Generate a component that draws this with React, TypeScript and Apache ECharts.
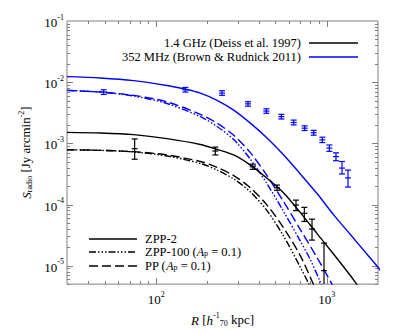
import React, { useEffect, useRef } from 'react';
import * as echarts from 'echarts';

const FONT = '"Liberation Serif", "DejaVu Serif", "Times New Roman", serif';
const BLUE = '#0000ff';
const BLACK = '#000000';
const FRAME = '#808080';

// ---- model curves (R in h70^-1 kpc, S in Jy arcmin^-2) ----
const zpp2BlueR = [30, 47.1, 73.8, 115.8, 145, 181.6, 227.5, 284.9, 356.8, 446.8, 559.7, 700.9, 877.9, 1099.4, 1376.9, 1724.5, 2000, 2259];
const zpp2BlueS = [0.0123, 0.01171, 0.01061, 0.00882, 0.00779, 0.00664, 0.00506, 0.0035, 0.00214, 0.001226, 6.46e-4, 3.16e-4, 1.51e-4, 6.76e-5, 3.23e-5, 1.54e-5, 9.41e-6, 6.11e-6];

const zpp100BlueR = [30, 47.1, 73.8, 115.8, 181.6, 227.5, 284.9, 356.8, 446.8, 559.7, 700.9, 802.4, 918, 1004.7];
const zpp100BlueS = [7.33e-3, 6.89e-3, 5.94e-3, 4.48e-3, 2.73e-3, 1.888e-3, 1.153e-3, 5.5e-4, 2.18e-4, 7.65e-5, 2.52e-5, 1.249e-5, 5.4e-6, 2.92e-6];

const ppBlueR = [30, 47.1, 73.8, 115.8, 181.6, 227.5, 284.9, 356.8, 446.8, 559.7, 700.9, 877.9, 1075, 1176];
const ppBlueS = [7.33e-3, 6.89e-3, 6.09e-3, 4.76e-3, 2.98e-3, 2.14e-3, 1.353e-3, 7.04e-4, 2.97e-4, 1.107e-4, 3.88e-5, 1.36e-5, 4.95e-6, 3.1e-6];

const zpp2BlackR = [30, 47.1, 73.8, 115.8, 181.6, 227.5, 284.9, 356.8, 446.8, 559.7, 700.9, 877.9, 1099.4, 1376.9, 1507, 1649];
const zpp2BlackS = [1.512e-3, 1.475e-3, 1.387e-3, 1.196e-3, 9.58e-4, 7.96e-4, 6.46e-4, 4.41e-4, 2.69e-4, 1.545e-4, 7.37e-5, 3.35e-5, 1.54e-5, 6.91e-6, 4.89e-6, 3.51e-6];

const zpp100BlackR = [30, 47.1, 73.8, 115.8, 181.6, 227.5, 284.9, 356.8, 446.8, 559.7, 700.9, 784.4, 858];
const zpp100BlackS = [7.86e-4, 7.68e-4, 7.22e-4, 6.22e-4, 4.69e-4, 3.66e-4, 2.62e-4, 1.603e-4, 7.94e-5, 3.03e-5, 9.41e-6, 5.08e-6, 2.92e-6];

const ppBlackR = [30, 47.1, 73.8, 115.8, 181.6, 227.5, 284.9, 356.8, 446.8, 559.7, 700.9, 838.9, 918];
const ppBlackS = [7.86e-4, 7.68e-4, 7.31e-4, 6.46e-4, 5.05e-4, 4.04e-4, 2.97e-4, 1.88e-4, 9.79e-5, 4.13e-5, 1.449e-5, 4.89e-6, 2.92e-6];

// ---- observations ----
const obs352R = [49.2, 148.3, 243.4, 345.7, 442.9, 542.4, 640.5, 743.0, 838.9, 943.2, 1037, 1134, 1230, 1334];
const obs352S = [6.89e-3, 7.51e-3, 6.64e-3, 4.42e-3, 3.37e-3, 2.73e-3, 2.19e-3, 1.77e-3, 1.49e-3, 1.14e-3, 8.37e-4, 6.07e-4, 3.94e-4, 2.72e-4];
const obs352Lo = [6.3e-3, 6.9e-3, 6.1e-3, 4.05e-3, 3.1e-3, 2.5e-3, 2.0e-3, 1.62e-3, 1.36e-3, 1.03e-3, 7.4e-4, 5.2e-4, 3.16e-4, 1.93e-4];
const obs352Hi = [7.5e-3, 8.2e-3, 7.25e-3, 4.8e-3, 3.67e-3, 2.98e-3, 2.4e-3, 1.93e-3, 1.63e-3, 1.26e-3, 9.4e-4, 7.0e-4, 5.05e-4, 3.66e-4];

const obs14R = [74.8, 222.4, 368.1, 511.5, 661.1, 739.7, 820.4, 964.7];
const obs14S = [8.17e-4, 7.49e-4, 4.14e-4, 1.88e-4, 9.8e-5, 7.19e-5, 3.98e-5, 8.3e-6];
const obs14Lo = [5.5e-4, 6.46e-4, 3.75e-4, 1.71e-4, 7.94e-5, 5.28e-5, 2.62e-5, 2e-6];
const obs14Hi = [1.18e-3, 8.68e-4, 4.57e-4, 2.08e-4, 1.18e-4, 8.98e-5, 5.77e-5, 2.34e-5];

// ---- axes ----
const X_MIN = 30;
const X_MAX = 2000;
const Y_MIN = 5e-6;
const Y_MAX = 0.1;
const xMajorTicks = [100, 1000];
const xMinorTicks = [40, 50, 60, 70, 80, 90, 200, 300, 400, 500, 600, 700, 800, 900];
const yMajorTicks = [1e-5, 1e-4, 1e-3, 1e-2];
const yMinorMantissas = [2, 3, 4, 5, 6, 7, 8, 9];
const yMinorExps = [-6, -5, -4, -3, -2];

const zip = (a: number[], b: number[]) => a.map((v, i) => [v, b[i]]);

const lineSeries = (name: string, r: number[], s: number[], color: string, type: any) => ({
  name,
  type: 'line',
  data: zip(r, s),
  showSymbol: false,
  symbol: 'none',
  smooth: 0.3,
  clip: true,
  lineStyle: { color, width: 1.4, type },
  z: 3,
});

const DASH_DOT3 = [7, 2, 1.5, 2, 1.5, 2, 1.5, 2];
const DASH = [9, 4];

const errSeries = (r: number[], s: number[], lo: number[], hi: number[], color: string) => ({
  type: 'custom',
  clip: true,
  z: 5,
  data: r.map((v, i) => [v, s[i], lo[i], hi[i]]),
  encode: { x: 0, y: 1 },
  renderItem: (params: any, api: any) => {
    const x = api.value(0);
    const p = api.coord([x, api.value(1)]);
    const pl = api.coord([x, api.value(2)]);
    const ph = api.coord([x, api.value(3)]);
    const w = 3;
    const style = { stroke: color, lineWidth: 1.2 };
    return {
      type: 'group',
      children: [
        { type: 'line', shape: { x1: p[0], y1: ph[1], x2: p[0], y2: pl[1] }, style },
        { type: 'line', shape: { x1: p[0] - w, y1: ph[1], x2: p[0] + w, y2: ph[1] }, style },
        { type: 'line', shape: { x1: p[0] - w, y1: pl[1], x2: p[0] + w, y2: pl[1] }, style },
        { type: 'line', shape: { x1: p[0] - w, y1: p[1], x2: p[0] + w, y2: p[1] }, style },
      ],
    };
  },
});

const tickStyle = { stroke: FRAME, lineWidth: 1 };

const xTickSeries = {
  type: 'custom',
  clip: false,
  silent: true,
  z: 2,
  data: [...xMajorTicks.map((v) => [v, 1e-3, 6]), ...xMinorTicks.map((v) => [v, 1e-3, 3])],
  encode: { x: 0, y: 1 },
  renderItem: (params: any, api: any) => {
    const cs = params.coordSys;
    const px = Math.round(api.coord([api.value(0), 1e-3])[0]) + 0.5;
    const len = api.value(2);
    const yb = cs.y + cs.height;
    const yt = cs.y;
    return {
      type: 'group',
      children: [
        { type: 'line', shape: { x1: px, y1: yb, x2: px, y2: yb - len }, style: tickStyle },
        { type: 'line', shape: { x1: px, y1: yt, x2: px, y2: yt + len }, style: tickStyle },
      ],
    };
  },
};

const yMinorTicks: number[] = [];
yMinorExps.forEach((e) => yMinorMantissas.forEach((m) => {
  const v = m * Math.pow(10, e);
  if (v > Y_MIN * 0.999 && v < Y_MAX) yMinorTicks.push(v);
}));

const yTickSeries = {
  type: 'custom',
  clip: false,
  silent: true,
  z: 2,
  data: [...yMajorTicks.map((v) => [100, v, 6]), ...yMinorTicks.map((v) => [100, v, 3])],
  encode: { x: 0, y: 1 },
  renderItem: (params: any, api: any) => {
    const cs = params.coordSys;
    const py = Math.round(api.coord([100, api.value(1)])[1]) + 0.5;
    const len = api.value(2);
    const xl = cs.x;
    const xr = cs.x + cs.width;
    return {
      type: 'group',
      children: [
        { type: 'line', shape: { x1: xl, y1: py, x2: xl + len, y2: py }, style: tickStyle },
        { type: 'line', shape: { x1: xr, y1: py, x2: xr - len, y2: py }, style: tickStyle },
      ],
    };
  },
};

const richBase = {
  b: { fontFamily: FONT, fontSize: 13, color: BLACK, lineHeight: 16, verticalAlign: 'bottom' },
  s: { fontFamily: FONT, fontSize: 8, color: BLACK, lineHeight: 8, verticalAlign: 'top' },
  sub: { fontFamily: FONT, fontSize: 8, color: BLACK, lineHeight: 7, verticalAlign: 'bottom' },
  i: { fontFamily: FONT, fontSize: 13, color: BLACK, lineHeight: 16, fontStyle: 'italic', verticalAlign: 'bottom' },
};

const richLegend = {
  b: { fontFamily: FONT, fontSize: 12, color: BLACK, lineHeight: 11, verticalAlign: 'middle' },
  i: { fontFamily: FONT, fontSize: 12, color: BLACK, lineHeight: 11, fontStyle: 'italic', verticalAlign: 'middle' },
  sub: { fontFamily: FONT, fontSize: 8, color: BLACK, lineHeight: 5, verticalAlign: 'bottom' },
};

const powLabel = (v: number) => {
  const e = Math.round(Math.log10(v));
  return `{b|10}{s|${e}}`;
};

const legendText = (text: string, x: number, y: number, align: string) => ({
  type: 'text',
  style: {
    text,
    x,
    y,
    fill: BLACK,
    font: `12.5px ${FONT}`,
    fontFamily: FONT,
    fontSize: 12.5,
    lineHeight: 11,
    align,
    textAlign: align,
    verticalAlign: 'middle',
    textVerticalAlign: 'middle',
    rich: richLegend,
  },
  z: 10,
});

const legendLine = (x1: number, x2: number, y: number, color: string, dash: any) => ({
  type: 'line',
  shape: { x1, y1: y, x2, y2: y },
  style: { stroke: color, lineWidth: 1.6, lineDash: dash },
  z: 10,
});

export default function App() {
  const ref = useRef<HTMLDivElement>(null);
  useEffect(() => {
    if (!ref.current) return;
    const chart = echarts.init(ref.current, null, { renderer: 'svg' });
    chart.setOption({
      animation: false,
      backgroundColor: '#ffffff',
      grid: { left: 67, right: 21, top: 21, bottom: 43, show: true, borderColor: FRAME, borderWidth: 1, backgroundColor: 'transparent' },
      xAxis: {
        type: 'log',
        logBase: 10,
        min: X_MIN,
        max: X_MAX,
        axisLine: { show: false },
        axisTick: { show: false },
        splitLine: { show: false },
        minorTick: { show: false },
        axisLabel: { showMinLabel: false, showMaxLabel: false, margin: 6, formatter: powLabel, rich: richBase },
        name: '{i|R} [{i|h}{s|-1}{sub|70} kpc]',
        nameLocation: 'middle',
        nameGap: 22,
        nameTextStyle: { fontFamily: FONT, fontSize: 13, color: BLACK, rich: richBase },
      },
      yAxis: {
        type: 'log',
        logBase: 10,
        min: Y_MIN,
        max: Y_MAX,
        axisLine: { show: false },
        axisTick: { show: false },
        splitLine: { show: false },
        minorTick: { show: false },
        axisLabel: { showMinLabel: false, margin: 3, formatter: powLabel, rich: richBase },
        name: '{i|S}{sub|radio} [Jy arcmin{s|-2}]',
        nameLocation: 'middle',
        nameRotate: 90,
        nameGap: 28,
        nameTextStyle: { fontFamily: FONT, fontSize: 13, color: BLACK, rich: richBase },
      },
      series: [
        xTickSeries,
        yTickSeries,
        lineSeries('ZPP-2 352', zpp2BlueR, zpp2BlueS, BLUE, 'solid'),
        lineSeries('ZPP-100 352', zpp100BlueR, zpp100BlueS, BLUE, DASH_DOT3),
        lineSeries('PP 352', ppBlueR, ppBlueS, BLUE, DASH),
        lineSeries('ZPP-2 1.4', zpp2BlackR, zpp2BlackS, BLACK, 'solid'),
        lineSeries('ZPP-100 1.4', zpp100BlackR, zpp100BlackS, BLACK, DASH_DOT3),
        lineSeries('PP 1.4', ppBlackR, ppBlackS, BLACK, DASH),
        errSeries(obs352R, obs352S, obs352Lo, obs352Hi, BLUE),
        errSeries(obs14R, obs14S, obs14Lo, obs14Hi, BLACK),
      ],
      graphic: [
        legendText('1.4 GHz (Deiss et al. 1997)', 301, 43, 'right'),
        legendText('352 MHz (Brown & Rudnick 2011)', 301, 57, 'right'),
        legendLine(309, 358, 43, BLACK, null),
        legendLine(309, 358, 57, BLUE, null),
        legendLine(89, 137, 239, BLACK, null),
        legendLine(89, 137, 252, BLACK, DASH_DOT3),
        legendLine(89, 137, 266, BLACK, DASH),
        legendText('ZPP-2', 145, 239, 'left'),
        legendText('ZPP-100 ({i|A}{sub|p} = 0.1)', 145, 252, 'left'),
        legendText('PP ({i|A}{sub|p} = 0.1)', 145, 266, 'left'),
      ],
    });
    return () => chart.dispose();
  }, []);
  return <div ref={ref} style={{ position: 'absolute', left: 0, top: 0, width: 399, height: 332 }} />;
}
